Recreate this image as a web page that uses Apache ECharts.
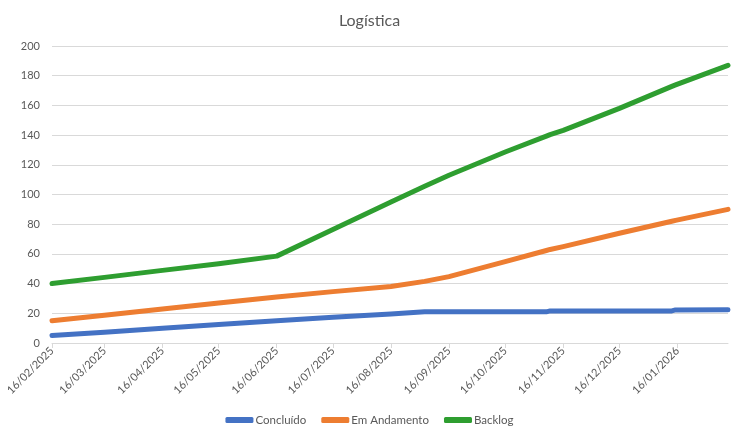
<!DOCTYPE html>
<html>
<head>
<meta charset="utf-8">
<script src="https://cdn.jsdelivr.net/npm/echarts@6/dist/echarts.min.js"></script>
<style>
  html, body { margin: 0; padding: 0; background: #fff; }
  #chart { width: 739px; height: 434px; }
</style>
</head>
<body>
<div id="chart"></div>
<script>
// Tick dates on the x axis (16th of every month)
const tickDates = ['2025-02-16', '2025-03-16', '2025-04-16', '2025-05-16', '2025-06-16', '2025-07-16',
    '2025-08-16', '2025-09-16', '2025-10-16', '2025-11-16', '2025-12-16', '2026-01-16'];
const axisStart = '2025-02-16';
const axisEnd = '2026-02-12';

const dates = ['2025-02-16', '2025-03-16', '2025-04-16', '2025-05-16', '2025-06-16', '2025-07-16',
    '2025-08-16', '2025-09-03', '2025-09-16', '2025-10-16', '2025-11-07', '2025-11-09', '2025-11-16',
    '2025-12-16', '2026-01-13', '2026-01-15', '2026-02-12'];
const concluido = [5, 7.3, 9.9, 12.4, 15, 17.3, 19.6, 21, 21, 21, 21, 21.6, 21.6, 21.6, 21.6, 22.3, 22.4];
const emAndamento = [15, 18.7, 22.9, 26.9, 31, 34.6, 38, 41.5, 44.7, 54.8, 62.3, 63, 64.9, 73.9, 82, 82.6, 90];
const backlog = [40, 44.2, 48.9, 53.4, 58.5, 76.5, 95, 105.5, 113, 128.6, 139.3, 140.3, 143.2, 158, 172.8, 173.8, 187];

const seriesNames = ['Concluído', 'Em Andamento', 'Backlog'];
const seriesColors = ['#4472C4', '#ED7D31', '#2E9E30'];

function toTime(s) {
    const p = s.split('-').map(Number);
    return new Date(p[0], p[1] - 1, p[2]).getTime();
}

function pad(n) {
    return n < 10 ? '0' + n : '' + n;
}

function fmtDate(v) {
    const d = new Date(v);
    return pad(d.getDate()) + '/' + pad(d.getMonth() + 1) + '/' + d.getFullYear();
}

const tickValues = tickDates.map(toTime);

function makeSeries(name, values, color) {
    return {
        name: name,
        type: 'line',
        showSymbol: false,
        symbol: 'none',
        data: dates.map((d, i) => [toTime(d), values[i]]),
        lineStyle: { color: color, width: 5, cap: 'round', join: 'round' },
        itemStyle: { color: color },
        animation: false
    };
}

const chart = echarts.init(document.getElementById('chart'));

const option = {
    backgroundColor: '#ffffff',
    textStyle: { fontFamily: 'Lato, "Open Sans", sans-serif' },
    title: {
        text: 'Logística',
        left: 'center',
        top: 8,
        textStyle: { fontSize: 16, fontWeight: 'normal', color: '#595959', fontFamily: 'Lato, sans-serif' }
    },
    legend: {
        bottom: 3,
        left: 'center',
        itemWidth: 28,
        itemHeight: 6,
        itemGap: 15,
        icon: 'roundRect',
        textStyle: { fontSize: 11.5, color: '#595959', padding: [0, 0, 0, -3] },
        data: seriesNames
    },
    grid: { left: 52, right: 11, top: 46, bottom: 91 },
    xAxis: {
        type: 'value',
        min: toTime(axisStart),
        max: toTime(axisEnd),
        axisLine: { show: true, lineStyle: { color: '#d9d9d9' } },
        axisTick: { show: true, length: 5, lineStyle: { color: '#d9d9d9' }, customValues: tickValues },
        splitLine: { show: false },
        axisLabel: {
            customValues: tickValues,
            rotate: 45,
            fontSize: 11,
            color: '#595959',
            margin: 6,
            formatter: function (v) { return fmtDate(v); }
        }
    },
    yAxis: {
        type: 'value',
        min: 0,
        max: 200,
        interval: 20,
        axisLine: { show: false },
        axisTick: { show: false },
        splitLine: { lineStyle: { color: '#d9d9d9', width: 1 } },
        axisLabel: { fontSize: 11, color: '#595959', margin: 12 }
    },
    series: [
        makeSeries(seriesNames[0], concluido, seriesColors[0]),
        makeSeries(seriesNames[1], emAndamento, seriesColors[1]),
        makeSeries(seriesNames[2], backlog, seriesColors[2])
    ]
};

chart.setOption(option);
</script>
</body>
</html>
